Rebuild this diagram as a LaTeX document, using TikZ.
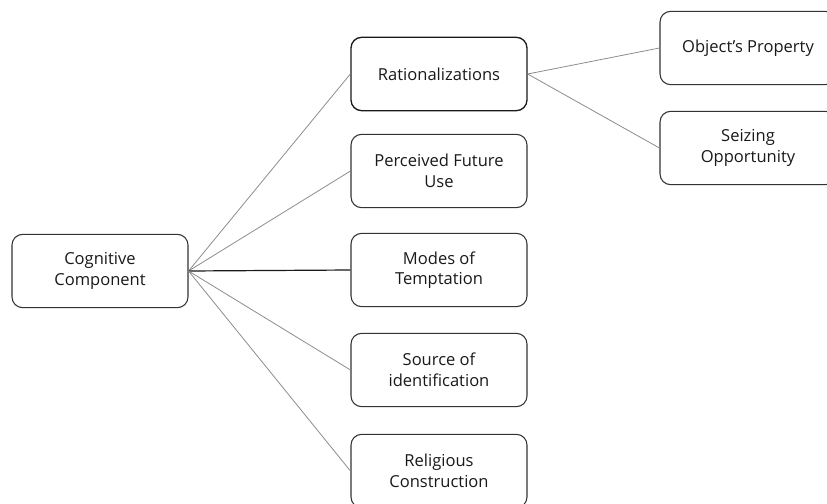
\documentclass[tikz,border=0pt]{standalone}
\usepackage{fontspec}
\setmainfont{Open Sans}
\begin{document}
\begin{tikzpicture}[x=0.75pt,y=-0.75pt,
  box/.style={draw=black!80,line width=0.8pt,rounded corners=8pt,minimum width=132pt,minimum height=55pt,align=center,font=\fontsize{12.4}{15.5}\selectfont,text=black!90,inner sep=2pt},
  link/.style={draw=black!45,line width=0.6pt},
  strong/.style={draw=black!90,line width=0.9pt}]
\useasboundingbox (0,0) rectangle (827,503);
\clip (0,0) rectangle (827,503);
\node[box] (cog) at (100,271) {Cognitive\\Component};
\node[box,line width=1pt,draw=black!90] (rat) at (439,74) {Rationalizations};
\node[box] (pfu) at (439,171) {Perceived Future\\Use};
\node[box] (mod) at (439,270) {Modes of\\Temptation};
\node[box] (src) at (439,370) {Source of\\identification};
\node[box] (rel) at (439,471) {Religious\\Construction};
\node[box] (obj) at (748,48) {Object’s Property};
\node[box] (sei) at (748,148) {Seizing\\Opportunity};
\draw[link] (cog.east) -- (rat.west);
\draw[link] (cog.east) -- (pfu.west);
\draw[strong] (cog.east) -- (mod.west);
\draw[link] (cog.east) -- (src.west);
\draw[link] (cog.east) -- (rel.west);
\draw[link] (rat.east) -- (obj.west);
\draw[link] (rat.east) -- (sei.west);
\end{tikzpicture}
\end{document}
